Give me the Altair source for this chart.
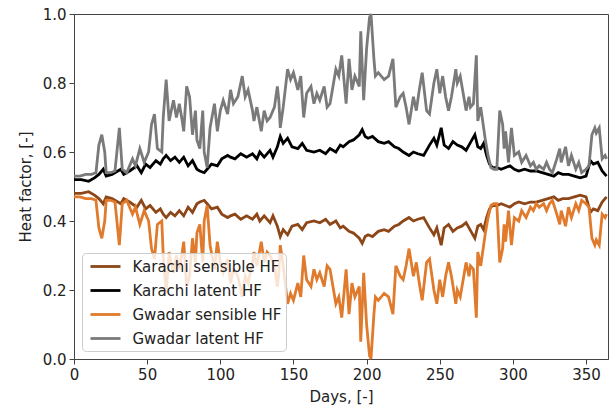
import altair as alt
import pandas as pd

# ---- data ----
gwadar_days = [0, 4, 8, 12, 15, 17, 19, 21, 22, 25, 28, 31, 33, 36, 40, 42, 45, 48, 51, 53, 55, 57, 60,
               61, 63, 65, 68, 70, 72, 74, 75, 77, 79, 81, 83, 84, 86, 88, 89, 91, 93, 96, 98, 100, 102,
               105, 107, 109, 112, 115, 117, 119, 122, 123, 125, 128, 130, 132, 134, 137, 139, 140, 141,
               143, 146, 148, 150, 153, 155, 157, 159, 162, 164, 166, 168, 171, 173, 175, 177, 179, 181,
               183, 186, 188, 190, 192, 195, 196, 198, 200, 202, 203, 205, 206, 208, 212, 215, 218, 220,
               223, 225, 227, 229, 232, 234, 236, 238, 241, 243, 246, 248, 250, 252, 254, 256, 258, 261,
               262, 264, 266, 268, 270, 271, 273, 275, 276, 278, 280, 281, 283, 285, 287, 289, 291, 293,
               294, 295, 297, 299, 301, 304, 306, 309, 312, 314, 316, 318, 321, 323, 325, 327, 330, 332,
               333, 336, 338, 340, 343, 345, 347, 350, 352, 354, 356, 357, 359, 361, 363, 364]
gwadar_latent = [0.53, 0.53, 0.535, 0.535, 0.54, 0.62, 0.65, 0.60, 0.54, 0.54, 0.545, 0.67, 0.55, 0.54, 0.58,
                 0.56, 0.61, 0.57, 0.60, 0.68, 0.71, 0.61, 0.60,
                 0.70, 0.81, 0.69, 0.75, 0.70, 0.74, 0.69, 0.66, 0.79, 0.76, 0.65, 0.72, 0.635, 0.61, 0.72,
                 0.60, 0.555, 0.67, 0.74, 0.66, 0.72, 0.75,
                 0.71, 0.78, 0.74, 0.76, 0.82, 0.76, 0.78, 0.72, 0.69, 0.73, 0.66, 0.72, 0.69, 0.70, 0.73,
                 0.79, 0.75, 0.67,
                 0.73, 0.84, 0.81, 0.83, 0.78, 0.82, 0.70, 0.77, 0.79, 0.74, 0.77, 0.75, 0.79, 0.73, 0.74,
                 0.79, 0.84, 0.82,
                 0.88, 0.74, 0.87, 0.78, 0.82, 0.79, 0.95, 0.75, 0.90, 0.99, 1.00, 0.87, 0.82, 0.83, 0.81,
                 0.82, 0.87, 0.73,
                 0.76, 0.77, 0.73, 0.68, 0.76, 0.72, 0.78, 0.83, 0.72, 0.71, 0.80, 0.84, 0.77, 0.82, 0.76,
                 0.72, 0.76, 0.84,
                 0.80, 0.82, 0.77, 0.72, 0.76, 0.73, 0.74, 0.88, 0.69, 0.73, 0.67, 0.64, 0.59, 0.555, 0.55,
                 0.55, 0.72, 0.68,
                 0.61, 0.66, 0.57, 0.67, 0.59, 0.60, 0.57, 0.59, 0.56, 0.57, 0.55, 0.56, 0.55, 0.57, 0.55,
                 0.54, 0.58, 0.61,
                 0.57, 0.615, 0.56, 0.59, 0.55, 0.57, 0.54, 0.55, 0.56, 0.65, 0.67, 0.655, 0.67, 0.58, 0.59, 0.58]
gwadar_sensible = [0.47, 0.47, 0.465, 0.465, 0.46, 0.38, 0.35, 0.40, 0.46, 0.46, 0.455, 0.33, 0.45, 0.46, 0.42,
                   0.44, 0.39, 0.43, 0.40, 0.32, 0.29, 0.39, 0.40,
                   0.30, 0.19, 0.31, 0.25, 0.30, 0.26, 0.31, 0.34, 0.21, 0.24, 0.35, 0.28, 0.365, 0.39, 0.28,
                   0.40, 0.445, 0.33, 0.26, 0.34, 0.28, 0.25,
                   0.29, 0.22, 0.26, 0.24, 0.18, 0.24, 0.22, 0.28, 0.31, 0.27, 0.34, 0.28, 0.31, 0.30, 0.27,
                   0.21, 0.25, 0.33,
                   0.27, 0.16, 0.19, 0.17, 0.22, 0.18, 0.30, 0.23, 0.21, 0.26, 0.23, 0.25, 0.21, 0.27, 0.26,
                   0.21, 0.16, 0.18,
                   0.12, 0.26, 0.13, 0.22, 0.18, 0.21, 0.05, 0.25, 0.10, 0.01, 0.00, 0.13, 0.18, 0.17, 0.19,
                   0.18, 0.13, 0.27,
                   0.24, 0.23, 0.27, 0.32, 0.24, 0.28, 0.22, 0.17, 0.28, 0.29, 0.20, 0.16, 0.23, 0.18, 0.24,
                   0.28, 0.24, 0.16,
                   0.20, 0.18, 0.23, 0.28, 0.24, 0.27, 0.26, 0.12, 0.31, 0.27, 0.33, 0.36, 0.41, 0.445, 0.45,
                   0.45, 0.28, 0.32,
                   0.39, 0.34, 0.43, 0.33, 0.41, 0.40, 0.43, 0.41, 0.44, 0.43, 0.45, 0.44, 0.45, 0.43, 0.45,
                   0.46, 0.42, 0.39,
                   0.43, 0.385, 0.44, 0.41, 0.45, 0.43, 0.46, 0.45, 0.44, 0.35, 0.33, 0.345, 0.33, 0.42, 0.41, 0.42]

karachi_days = [0, 5, 10, 14, 17, 20, 22, 26, 30, 32, 34, 38, 43, 46, 49, 52, 56, 59, 61, 63, 66, 69, 72,
                75, 78, 81, 84, 86, 89, 91, 94, 98, 101, 105, 107, 110, 114, 118, 122, 125, 127, 130, 134,
                136, 139, 141, 143, 146, 149, 153, 156, 159, 164, 168, 172, 175, 179, 182, 184, 188, 191,
                195, 197, 199, 201, 204, 208, 212, 215, 219, 222, 225, 229, 232, 235, 239, 243, 246, 248,
                251, 253, 256, 259, 262, 265, 268, 270, 272, 274, 276, 278, 280, 282, 284, 286, 289, 292,
                295, 298, 301, 304, 308, 312, 316, 320, 324, 328, 331, 334, 338, 342, 346, 350, 353, 355,
                358, 361, 364]
karachi_latent = [0.52, 0.52, 0.515, 0.525, 0.535, 0.55, 0.53, 0.535, 0.545, 0.55, 0.535, 0.545, 0.56, 0.54,
                  0.565, 0.555, 0.575, 0.565, 0.58, 0.59, 0.575, 0.585, 0.57,
                  0.585, 0.56, 0.575, 0.55, 0.545, 0.54, 0.55, 0.565, 0.56, 0.58, 0.59, 0.585, 0.58, 0.595,
                  0.585, 0.595, 0.58, 0.60, 0.585, 0.605,
                  0.585, 0.615, 0.645, 0.625, 0.64, 0.615, 0.61, 0.625, 0.605, 0.60, 0.605, 0.595, 0.61,
                  0.60, 0.62, 0.615, 0.63, 0.635,
                  0.65, 0.665, 0.645, 0.64, 0.645, 0.63, 0.625, 0.63, 0.615, 0.61, 0.60, 0.59, 0.60, 0.595,
                  0.59, 0.62, 0.64, 0.62,
                  0.67, 0.62, 0.61, 0.63, 0.62, 0.615, 0.605, 0.62, 0.635, 0.65, 0.615, 0.61, 0.625, 0.59,
                  0.565, 0.555, 0.555, 0.55,
                  0.555, 0.56, 0.55, 0.545, 0.55, 0.545, 0.545, 0.54, 0.535, 0.53, 0.54, 0.535, 0.535, 0.53,
                  0.525, 0.53, 0.575, 0.565,
                  0.57, 0.545, 0.53]
karachi_sensible = [0.48, 0.48, 0.485, 0.475, 0.465, 0.45, 0.47, 0.465, 0.455, 0.45, 0.465, 0.455, 0.44, 0.46,
                    0.435, 0.445, 0.425, 0.435, 0.42, 0.41, 0.425, 0.415, 0.43,
                    0.415, 0.44, 0.425, 0.45, 0.455, 0.46, 0.45, 0.435, 0.44, 0.42, 0.41, 0.415, 0.42, 0.405,
                    0.415, 0.405, 0.42, 0.40, 0.415, 0.395,
                    0.415, 0.385, 0.355, 0.375, 0.36, 0.385, 0.39, 0.375, 0.395, 0.40, 0.395, 0.405, 0.39,
                    0.40, 0.38, 0.385, 0.37, 0.365,
                    0.35, 0.335, 0.355, 0.36, 0.355, 0.37, 0.375, 0.37, 0.385, 0.39, 0.40, 0.41, 0.40, 0.405,
                    0.41, 0.38, 0.36, 0.38,
                    0.33, 0.38, 0.39, 0.37, 0.38, 0.385, 0.395, 0.38, 0.365, 0.35, 0.385, 0.39, 0.375, 0.41,
                    0.435, 0.445, 0.445, 0.45,
                    0.445, 0.44, 0.45, 0.455, 0.45, 0.455, 0.455, 0.46, 0.465, 0.47, 0.46, 0.465, 0.465, 0.47,
                    0.475, 0.47, 0.425, 0.435,
                    0.43, 0.455, 0.47]

series_names = ["Karachi sensible HF", "Karachi latent HF", "Gwadar sensible HF", "Gwadar latent HF"]
series_colors = ["#8c4617", "#000000", "#e07a2c", "#7a7a7a"]

rows = []
for d, v in zip(karachi_days, karachi_sensible):
    rows.append({"day": d, "hf": v, "series": series_names[0], "k": 0})
for d, v in zip(karachi_days, karachi_latent):
    rows.append({"day": d, "hf": v, "series": series_names[1], "k": 1})
for d, v in zip(gwadar_days, gwadar_sensible):
    rows.append({"day": d, "hf": v, "series": series_names[2], "k": 2})
for d, v in zip(gwadar_days, gwadar_latent):
    rows.append({"day": d, "hf": v, "series": series_names[3], "k": 3})
df = pd.DataFrame(rows)

chart = alt.Chart(df).mark_line(strokeWidth=2.8).encode(
    x=alt.X("day:Q", title="Days, [-]",
            scale=alt.Scale(domain=[0, 365], nice=False, zero=False),
            axis=alt.Axis(values=[0, 50, 100, 150, 200, 250, 300, 350], labelFlush=False,
                          grid=False, tickSize=5, labelPadding=3, titlePadding=7)),
    y=alt.Y("hf:Q", title="Heat factor, [-]",
            scale=alt.Scale(domain=[0, 1], nice=False),
            axis=alt.Axis(values=[0, 0.2, 0.4, 0.6, 0.8, 1.0], format=".1f", grid=False,
                          tickSize=5, labelPadding=3, titlePadding=9)),
    color=alt.Color("series:N", sort=series_names,
                    scale=alt.Scale(domain=series_names, range=series_colors),
                    legend=alt.Legend(title=None, orient="none", legendX=8, legendY=239,
                                      symbolType="M-2,0H2", symbolSize=225, symbolStrokeWidth=2.8,
                                      symbolOffset=10, labelOffset=18,
                                      labelFontSize=15, rowPadding=7, padding=4.5,
                                      fillColor="rgba(255,255,255,0.8)", strokeColor="#cccccc",
                                      cornerRadius=4, labelFont="DejaVu Sans", labelColor="#222")),
    order=alt.Order("k:Q"),
    detail="k:N",
).properties(
    width=534, height=345,
    autosize=alt.AutoSizeParams(type="none"),
    padding={"left": 74, "top": 14, "right": 3, "bottom": 51},
).configure_view(
    stroke="#444", strokeWidth=1
).configure_axis(
    labelFont="DejaVu Sans", titleFont="DejaVu Sans", labelFontSize=15, titleFontSize=15,
    titleFontWeight="normal", labelColor="#222", titleColor="#222",
    domainColor="#444", tickColor="#444"
)

chart.save("out.html", embed_options={"renderer": "svg", "actions": False})
